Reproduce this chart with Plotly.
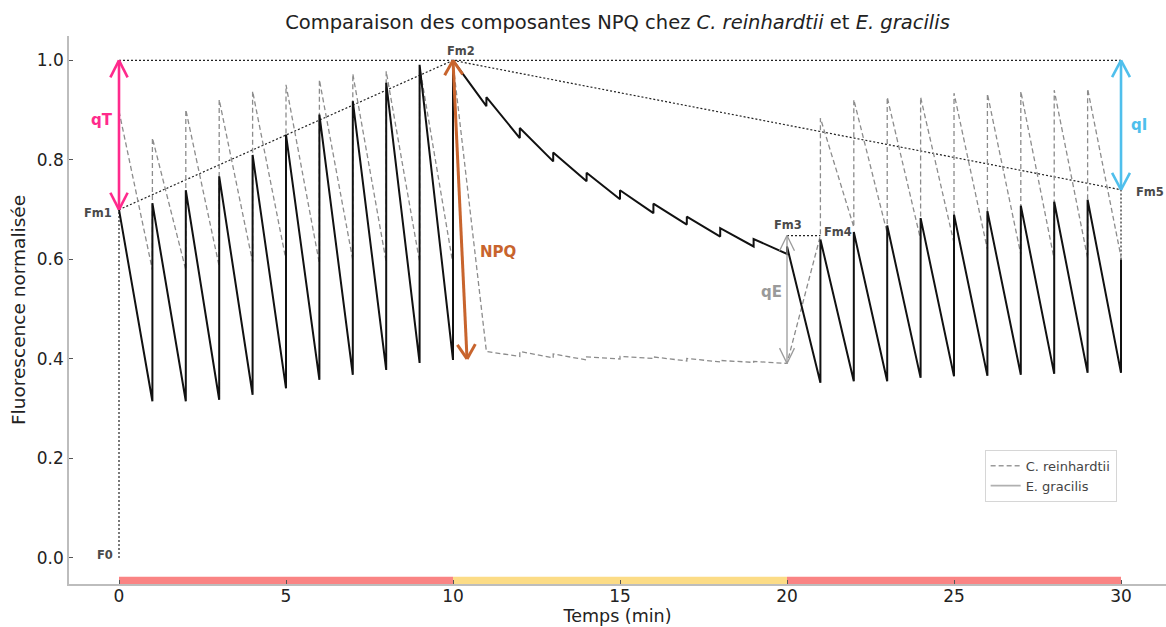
import math
import plotly.graph_objects as go

# ------------------------------------------------------------------ data
# E. gracilis: value at t=0, then at each minute 1..30 a trough (before the
# saturating flash) followed by the peak reached after the flash
eg_start = 0.70
eg_troughs = [0.315, 0.315, 0.318, 0.328, 0.341, 0.358, 0.368, 0.378, 0.392, 0.398,
              0.908, 0.844, 0.797, 0.757, 0.721, 0.693, 0.670, 0.646, 0.626, 0.611,
              0.352, 0.355, 0.355, 0.362, 0.365, 0.366, 0.368, 0.370, 0.372, 0.372]
eg_peaks = [0.713, 0.739, 0.767, 0.810, 0.851, 0.891, 0.918, 0.955, 0.991, 1.000,
            0.926, 0.864, 0.815, 0.774, 0.739, 0.712, 0.686, 0.663, 0.641, 0.626,
            0.640, 0.655, 0.668, 0.683, 0.690, 0.697, 0.708, 0.716, 0.720, 0.600]

# C. reinhardtii
cr_start = 0.898
cr_troughs = [0.579, 0.579, 0.586, 0.595, 0.599, 0.592, 0.599, 0.595, 0.595, 0.590,
              0.415, 0.405, 0.402, 0.398, 0.400, 0.401, 0.396, 0.394, 0.393, 0.391,
              0.648, 0.665, 0.653, 0.640, 0.633, 0.620, 0.610, 0.600, 0.603, 0.605]
cr_peaks = [0.844, 0.901, 0.921, 0.938, 0.951, 0.961, 0.973, 0.978, 0.988, 0.995,
            0.415, 0.415, 0.410, 0.404, 0.405, 0.404, 0.401, 0.397, 0.395, 0.391,
            0.884, 0.921, 0.926, 0.926, 0.934, 0.933, 0.938, 0.940, 0.943, 0.605]

# reference fluorescence points
fm_names = ["F0", "Fm1", "Fm2", "Fm3", "Fm4", "Fm5"]
fm_t = [0, 0, 10, 20, 21, 30]
fm_val = [0.0, 0.70, 1.0, 0.648, 0.648, 0.74]

# light phases (bottom bar)
phase_start = [0, 10, 20]
phase_end = [10, 20, 30]
phase_colors = ["#fa8484", "#fcdc86", "#fa8484"]

x_ticks = [0, 5, 10, 15, 20, 25, 30]
y_ticks = [0.0, 0.2, 0.4, 0.6, 0.8, 1.0]

# ------------------------------------------------------------------ geometry
W, H = 1166, 627
ML, MR, MT, MB = 69, 0, 36, 43
X_RANGE = [-1.497, 31.347]
Y_RANGE = [-0.0523, 1.049]
SX = (W - ML - MR) / (X_RANGE[1] - X_RANGE[0])   # px per minute
SY = (H - MT - MB) / (Y_RANGE[1] - Y_RANGE[0])   # px per unit


def series(start, troughs, peaks):
    xs, ys = [0], [start]
    for i, (t, p) in enumerate(zip(troughs, peaks), start=1):
        xs += [i, i]
        ys += [t, p]
    return xs, ys


def double_arrow(x0, y0, x1, y1, head_px=19, half_angle=28):
    xs, ys = [x0, x1, None], [y0, y1, None]
    for tx, ty, fx, fy in [(x1, y1, x0, y0), (x0, y0, x1, y1)]:
        dxp, dyp = (fx - tx) * SX, (fy - ty) * SY
        L = math.hypot(dxp, dyp)
        ux, uy = dxp / L, dyp / L
        for s in (1, -1):
            a = math.radians(half_angle) * s
            rx = ux * math.cos(a) - uy * math.sin(a)
            ry = ux * math.sin(a) + uy * math.cos(a)
            xs += [tx + rx * head_px / SX, tx, None]
            ys += [ty + ry * head_px / SY, ty, None]
    return xs, ys


fig = go.Figure()

# bottom phase bar
for a, b, c in zip(phase_start, phase_end, phase_colors):
    fig.add_trace(go.Scatter(x=[a, b], y=[-0.046, -0.046], mode="lines",
                             line=dict(color=c, width=8), showlegend=False,
                             hoverinfo="skip"))

# guide lines (dotted)
F = dict(zip(fm_names, zip(fm_t, fm_val)))
guides = [("F0", "Fm1"), ("Fm1", "Fm2"), ("Fm2", "Fm5"), ("Fm3", "Fm4")]
for a, b in guides:
    fig.add_trace(go.Scatter(x=[F[a][0], F[b][0]], y=[F[a][1], F[b][1]], mode="lines",
                             line=dict(color="#222", width=1.2, dash="2px,2px"),
                             showlegend=False, hoverinfo="skip"))
# top reference line at Fm2 level and vertical at Fm5
fig.add_trace(go.Scatter(x=[fm_t[1], fm_t[5]], y=[fm_val[2], fm_val[2]], mode="lines",
                         line=dict(color="#222", width=1.2, dash="2px,2px"),
                         showlegend=False, hoverinfo="skip"))
fig.add_trace(go.Scatter(x=[fm_t[5], fm_t[5]], y=[eg_peaks[-1], fm_val[5]], mode="lines",
                         line=dict(color="#222", width=1.2, dash="2px,2px"),
                         showlegend=False, hoverinfo="skip"))

# C. reinhardtii
cx, cy = series(cr_start, cr_troughs, cr_peaks)
fig.add_trace(go.Scatter(x=cx, y=cy, mode="lines", name="C. reinhardtii",
                         line=dict(color="#8c8c8c", width=1.3, dash="5px,3px"),
                         showlegend=False))
# E. gracilis
ex, ey = series(eg_start, eg_troughs, eg_peaks)
fig.add_trace(go.Scatter(x=ex, y=ey, mode="lines", name="E. gracilis",
                         line=dict(color="#111111", width=2), showlegend=False))

# arrows
arrows = [
    (fm_t[1], fm_val[1], fm_t[1], fm_val[2], "#ff2a8c", 2.6, 19, 27),   # qT
    (fm_t[2], fm_val[2], 10.42, 0.40, "#c8642d", 3.0, 17, 32),          # NPQ
    (fm_t[3], cr_troughs[19], fm_t[3], fm_val[3], "#9a9a9a", 1.3, 17, 26),  # qE
    (fm_t[5], fm_val[5], fm_t[5], fm_val[2], "#4fbfec", 2.6, 19, 28),   # qI
]
for x0, y0, x1, y1, col, w, hp, ha in arrows:
    axs, ays = double_arrow(x0, y0, x1, y1, hp, ha)
    fig.add_trace(go.Scatter(x=axs, y=ays, mode="lines",
                             line=dict(color=col, width=w), showlegend=False,
                             hoverinfo="skip"))

# legend proxies
fig.add_trace(go.Scatter(x=[None], y=[None], mode="lines", name="C. reinhardtii",
                         line=dict(color="#9a9a9a", width=1.5, dash="5px,3px")))
fig.add_trace(go.Scatter(x=[None], y=[None], mode="lines", name="E. gracilis",
                         line=dict(color="#b0b0b0", width=1.8)))

# arrow labels
arrow_labels = [("qT", -0.51, 0.880, "#ff2a8c"),
                ("NPQ", 11.35, 0.615, "#c8642d"),
                ("qE", 19.55, 0.535, "#9a9a9a"),
                ("qI", 30.54, 0.870, "#4fbfec")]
for txt, x, y, col in arrow_labels:
    fig.add_annotation(x=x, y=y, text="<b>%s</b>" % txt, showarrow=False,
                       font=dict(family="DejaVu Sans", size=15, color=col))

# Fm labels
label_pos = {
    "F0": dict(xanchor="right", xshift=-4, yshift=3),
    "Fm1": dict(xanchor="right", xshift=-5, yshift=-3),
    "Fm2": dict(xanchor="center", xshift=8, yshift=9),
    "Fm3": dict(xanchor="center", xshift=1, yshift=11),
    "Fm4": dict(xanchor="center", xshift=18, yshift=4),
    "Fm5": dict(xanchor="left", xshift=13, yshift=-2),
}
for n, t, v in zip(fm_names, fm_t, fm_val):
    fig.add_annotation(x=t, y=v, text="<b>%s</b>" % n, showarrow=False,
                       yanchor="middle",
                       font=dict(family="DejaVu Sans", size=11.5, color="#4a4a4a"),
                       **label_pos[n])

fig.update_layout(
    width=W, height=H,
    margin=dict(l=ML, r=MR, t=MT, b=MB),
    paper_bgcolor="white", plot_bgcolor="white",
    font=dict(family="DejaVu Sans", color="#222"),
    title=dict(text="Comparaison des composantes NPQ chez <i>C. reinhardtii</i> et <i>E. gracilis</i>",
               x=(ML + (W - MR)) / 2 / W, xanchor="center", xref="container",
               y=1 - 22 / H, yanchor="middle", yref="container",
               font=dict(size=19.5, color="#222")),
    legend=dict(x=0.955, xanchor="right", y=0.245, yanchor="top",
                bgcolor="white", bordercolor="#d6d6d6", borderwidth=1,
                font=dict(size=13, color="#444"), itemwidth=30,
                tracegroupgap=0),
    showlegend=True,
)
fig.update_xaxes(range=X_RANGE, tickvals=x_ticks, ticktext=[str(v) for v in x_ticks],
                 showgrid=False, zeroline=False, showline=True,
                 linecolor="#bdbdbd", linewidth=1.5, ticks="inside", ticklen=4,
                 tickcolor="#555", tickfont=dict(size=17, color="#222"),
                 ticklabelstandoff=-4,
                 title=dict(text="Temps (min)", font=dict(size=17.5, color="#222"),
                            standoff=2), automargin=False)
fig.update_yaxes(range=Y_RANGE, tickvals=y_ticks, ticktext=["%.1f" % v for v in y_ticks],
                 showgrid=False, zeroline=False, showline=True,
                 linecolor="#bdbdbd", linewidth=1.5, ticks="inside", ticklen=4,
                 tickcolor="#555", tickfont=dict(size=17, color="#222"),
                 title=dict(text="Fluorescence normalisée", font=dict(size=18.5, color="#222"),
                            standoff=6), automargin=False)

fig.write_html("out.html", config={"displayModeBar": False},
               post_script="document.body.style.margin='0';")
